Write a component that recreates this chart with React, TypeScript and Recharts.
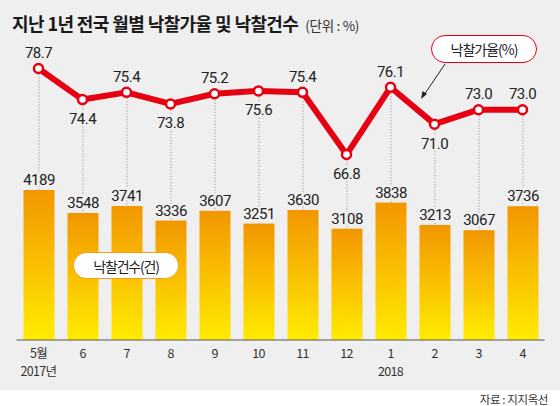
import React from 'react';
import { ComposedChart, Bar, Line, XAxis, YAxis, LabelList } from 'recharts';

const months = ['5월', '6', '7', '8', '9', '10', '11', '12', '1', '2', '3', '4'];
const yearLabels = ['2017년', '', '', '', '', '', '', '', '2018', '', '', ''];
const rates = [78.7, 74.4, 75.4, 73.8, 75.2, 75.6, 75.4, 66.8, 76.1, 71.0, 73.0, 73.0];
const counts = [4189, 3548, 3741, 3336, 3607, 3251, 3630, 3108, 3838, 3213, 3067, 3736];

const data = months.map((m, i) => ({ month: m, year: yearLabels[i], rate: rates[i], count: counts[i] }));

const RATE_DOMAIN: [number, number] = [41.15, 82.64];
const COUNT_DOMAIN: [number, number] = [0, 8378];
const BELOW = new Set([1, 3, 5, 7, 9]);
const RED = '#e50012';
const BG = '#efefef';
const NUM_FONT = 'Roboto, "Noto Sans", sans-serif';
const KR_FONT = '"Noto Sans CJK KR", "Noto Sans", sans-serif';

const BarShape = (p: any) => {
  const { x, y, width, height, index, payload, background } = p;
  const id = `barGrad-${index}`;
  let dotted = null;
  if (background && payload) {
    const ly = background.y + (background.height * (RATE_DOMAIN[1] - payload.rate)) / (RATE_DOMAIN[1] - RATE_DOMAIN[0]);
    dotted = (
      <line x1={x + width / 2} x2={x + width / 2} y1={ly + 6} y2={y} stroke="#8a8a8a" strokeWidth={1} strokeDasharray="1 2" />
    );
  }
  return (
    <g>
      <defs>
        <linearGradient id={id} x1="0" y1="0" x2="0" y2="1">
          <stop offset="0%" stopColor="#f29600" />
          <stop offset="55%" stopColor="#fac400" />
          <stop offset="100%" stopColor="#ffec00" />
        </linearGradient>
      </defs>
      {dotted}
      <rect x={x} y={y} width={width} height={height} fill={`url(#${id})`} />
    </g>
  );
};

const BarLabel = (p: any) => {
  const { x, y, width, value } = p;
  return (
    <text x={x + width / 2} y={y - 5} textAnchor="middle" fontFamily={NUM_FONT} fontSize={15} letterSpacing={-0.5}
      fill="#222" stroke={BG} strokeWidth={4} paintOrder="stroke">
      {value}
    </text>
  );
};

const RateLabel = (p: any) => {
  const { x, y, value, index } = p;
  const below = BELOW.has(index);
  return (
    <text x={x} y={below ? y + 24.5 : y - 10.5} textAnchor="middle" fontFamily={NUM_FONT} fontSize={15} letterSpacing={-0.5}
      fill="#222" stroke={BG} strokeWidth={4} paintOrder="stroke">
      {Number(value).toFixed(1)}
    </text>
  );
};

const RateDot = (p: any) => {
  const { cx, cy, index } = p;
  return <circle key={`d-${index}`} cx={cx} cy={cy} r={4.5} fill="#fff" stroke={RED} strokeWidth={2.5} />;
};

const MonthTick = (p: any) => {
  const { x, y, payload } = p;
  const yr = yearLabels[payload.index];
  return (
    <g>
      <text x={x} y={y + 9.5} textAnchor="middle" fontFamily={KR_FONT} fontSize={12.5} letterSpacing={-0.7} fill="#333">
        {payload.value}
      </text>
      {yr ? (
        <text x={x} y={y + 28} textAnchor="middle" fontFamily={KR_FONT} fontSize={12.5} letterSpacing={-0.7} fill="#333">
          {yr}
        </text>
      ) : null}
    </g>
  );
};

export default function App() {
  return (
    <div style={{ position: 'absolute', left: 0, top: 0, width: 560, height: 406, background: '#fff', overflow: 'hidden' }}>
      <div style={{ position: 'absolute', left: 0, top: 0, width: 560, height: 390, background: BG }} />
      <div style={{ position: 'absolute', left: 12, top: 11, fontFamily: KR_FONT, whiteSpace: 'nowrap', lineHeight: '24px' }}>
        <span style={{ fontSize: 18, fontWeight: 700, letterSpacing: -0.6, color: '#1a1a1a' }}>
          지난 1년 전국 월별 낙찰가율 및 낙찰건수
        </span>
        <span style={{ fontSize: 13.5, letterSpacing: -0.3, color: '#333', marginLeft: 7 }}>(단위 : %)</span>
      </div>
      <div style={{ position: 'absolute', left: 0, top: 0 }}>
        <ComposedChart width={560} height={406} data={data} margin={{ top: 40, right: 15.5, bottom: 36, left: 16.5 }}>
          <XAxis dataKey="month" interval={0} tickLine={false} axisLine={{ stroke: '#555', strokeWidth: 1 }} tick={<MonthTick />} />
          <YAxis yAxisId="count" hide domain={COUNT_DOMAIN} allowDataOverflow />
          <YAxis yAxisId="rate" hide orientation="right" domain={RATE_DOMAIN} allowDataOverflow />
          <Bar yAxisId="count" dataKey="count" barSize={31} shape={<BarShape />} isAnimationActive={false}>
            <LabelList dataKey="count" content={<BarLabel />} />
          </Bar>
          <Line yAxisId="rate" dataKey="rate" stroke={RED} strokeWidth={6} strokeLinejoin="round" dot={<RateDot />}
            activeDot={false} isAnimationActive={false}>
            <LabelList dataKey="rate" content={<RateLabel />} />
          </Line>
        </ComposedChart>
      </div>
      <div style={{ position: 'absolute', left: 73, top: 252, width: 106, height: 27, boxSizing: 'border-box', border: '1.5px solid #f0a020',
        borderRadius: 14, background: '#fff', fontFamily: KR_FONT, fontSize: 14, letterSpacing: -1.2, color: '#222',
        display: 'flex', alignItems: 'center', justifyContent: 'center' }}>
        낙찰건수(건)
      </div>
      <div style={{ position: 'absolute', left: 431, top: 35, width: 106, height: 28, boxSizing: 'border-box', border: `1.5px solid ${RED}`,
        borderRadius: 14, background: '#fff', fontFamily: KR_FONT, fontSize: 14, letterSpacing: -1, color: '#222',
        display: 'flex', alignItems: 'center', justifyContent: 'center' }}>
        낙찰가율(%)
      </div>
      <svg style={{ position: 'absolute', left: 0, top: 0 }} width={560} height={406}>
        <line x1={445} y1={64} x2={424} y2={95} stroke="#222" strokeWidth={1} />
        <polygon points="421,99 422.5,91 427,94" fill="#222" />
      </svg>
      <div style={{ position: 'absolute', right: 12, top: 391, fontFamily: KR_FONT, fontSize: 11.5, letterSpacing: -0.4, color: '#333', lineHeight: '16px', whiteSpace: 'pre' }}>
        {'자료 : 지지옥선'}
      </div>
    </div>
  );
}
